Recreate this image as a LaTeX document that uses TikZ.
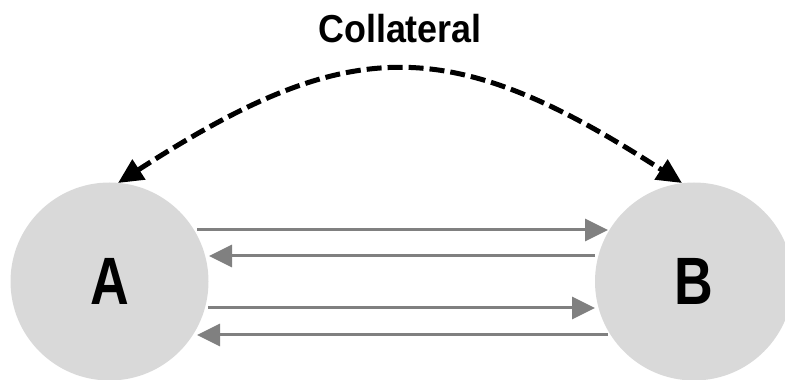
\documentclass[tikz,border=0pt]{standalone}
\usepackage{fontspec}
\setmainfont{Liberation Sans}
\newfontfamily\labfont[FakeStretch=0.8]{Liberation Sans}
\newfontfamily\titfont[FakeStretch=0.92]{Liberation Sans}
\usetikzlibrary{arrows.meta,calc}
\definecolor{circfill}{HTML}{D9D9D9}
\definecolor{flowgray}{HTML}{808080}
\tikzset{
  party/.style={circle, fill=circfill, minimum size=198pt, inner sep=0pt,
    font=\labfont\bfseries\fontsize{67}{67}\selectfont},
  flow/.style={draw=flowgray, line width=3pt,
    -{Triangle[length=23pt,width=22pt]}, color=flowgray},
  collat/.style={line width=5pt, dash pattern=on 15pt off 6pt,
    {Triangle[length=25pt,width=23pt]}-{Triangle[length=25pt,width=23pt]}},
}
\begin{document}
\begin{tikzpicture}[x=1pt,y=1pt]
\useasboundingbox (0,0) rectangle (785,380);
\node[party] (A) at (109.5,98.5) {A};
\node[party] (B) at (694,98.5) {B};
\node[anchor=base, font=\titfont\bfseries\fontsize{39}{39}\selectfont] (C) at (400,337) {Collateral};
% flows
\draw[flow] ($(A.center)+(87.5,51.5)$) -- ($(B.center)+(-86,51.5)$);
\draw[flow] ($(B.center)+(-99,25.5)$) -- ($(A.center)+(99.5,25.5)$);
\draw[flow] ($(A.center)+(98.5,-26.5)$) -- ($(B.center)+(-99,-26.5)$);
\draw[flow] ($(B.center)+(-86,-53.5)$) -- ($(A.center)+(87.5,-53.5)$);
% collateral
\coordinate (ca) at ($(A.center)+(8.5,98.5)$);
\coordinate (cb) at ($(B.center)+(-12,98.5)$);
\draw[collat] (ca) .. controls ($(ca)+(232,150)$) and ($(cb)+(-232,150)$) .. (cb);
\end{tikzpicture}
\end{document}
